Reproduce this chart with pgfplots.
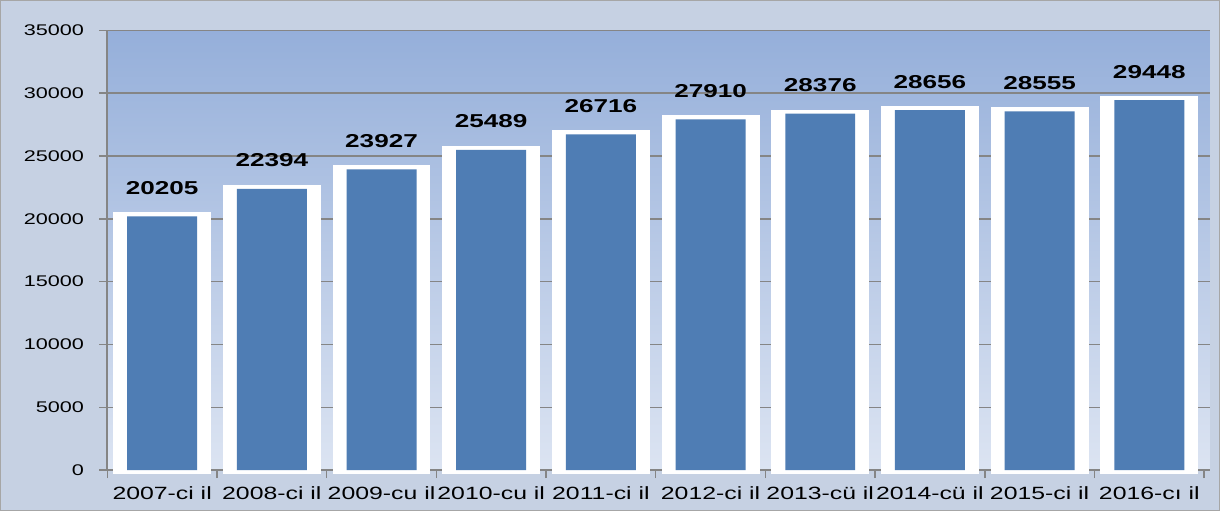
\documentclass[border=0pt]{standalone}
\usepackage{fontspec}
\setmainfont{Liberation Sans}[FakeStretch=1.4]
\usepackage{pgfplots}
\pgfplotsset{compat=1.18}
\definecolor{bgc}{HTML}{C6D1E3}
\definecolor{ptop}{HTML}{95AFDA}
\definecolor{pmid}{HTML}{AFC3E4}
\definecolor{pbot}{HTML}{DCE4F2}
\definecolor{barblue}{HTML}{4F7DB4}
\definecolor{axgray}{HTML}{858585}
\pgfplotstableread{
x y
0 20205
1 22394
2 23927
3 25489
4 26716
5 27910
6 28376
7 28656
8 28555
9 29448
}\datatable
\begin{document}
\begin{tikzpicture}
\path[use as bounding box, fill=bgc, draw=gray!70, line width=0.6pt] (-80.25pt,-30pt) rectangle (834.75pt,352.5pt);
\begin{axis}[
  at={(0,0)}, anchor=south west,
  scale only axis, width=827.25pt, height=330pt,
  xmin=-0.5, xmax=9.55, ymin=0, ymax=35000,
  clip=false,
  axis background/.style={top color=ptop, middle color=pmid, bottom color=pbot},
  axis x line=bottom, axis y line=left,
  axis line style={-, draw=axgray, line width=1.3pt},
  ytick={0,5000,...,35000},
  scaled y ticks=false,
  /pgf/number format/1000 sep={},
  /pgf/number format/assume math mode=true,
  xtick={-0.5,0.5,...,9.5},
  x tick label as interval,
  xticklabels={2007-ci il,2008-ci il,2009-cu il,2010-cu il,2011-ci il,2012-ci il,2013-cü il,2014-cü il,2015-ci il,2016-cı il},
  tick align=outside,
  major tick length=6pt,
  tick style={axgray, line width=1.1pt},
  ymajorgrids,
  grid style={axgray, line width=1.1pt},
  yticklabel style={font=\fontsize{11.6}{13}\selectfont, xshift=-8pt},
  xticklabel style={font=\fontsize{13.3}{15}\selectfont, yshift=-3pt},
  ybar,
]
\addplot[ybar, bar shift=0pt, bar width=67.5pt, fill=white, draw=white, line width=6pt,
  nodes near coords,
  nodes near coords style={text=black, font=\fontsize{14}{16}\selectfont\bfseries, anchor=south, yshift=10pt,
    /pgf/number format/.cd, fixed, precision=0, 1000 sep={}},
] table[x=x, y=y] {\datatable};
\addplot[ybar, bar shift=0pt, bar width=52.5pt, fill=barblue, draw=none] table[x=x, y=y] {\datatable};
\end{axis}
\end{tikzpicture}
\end{document}
